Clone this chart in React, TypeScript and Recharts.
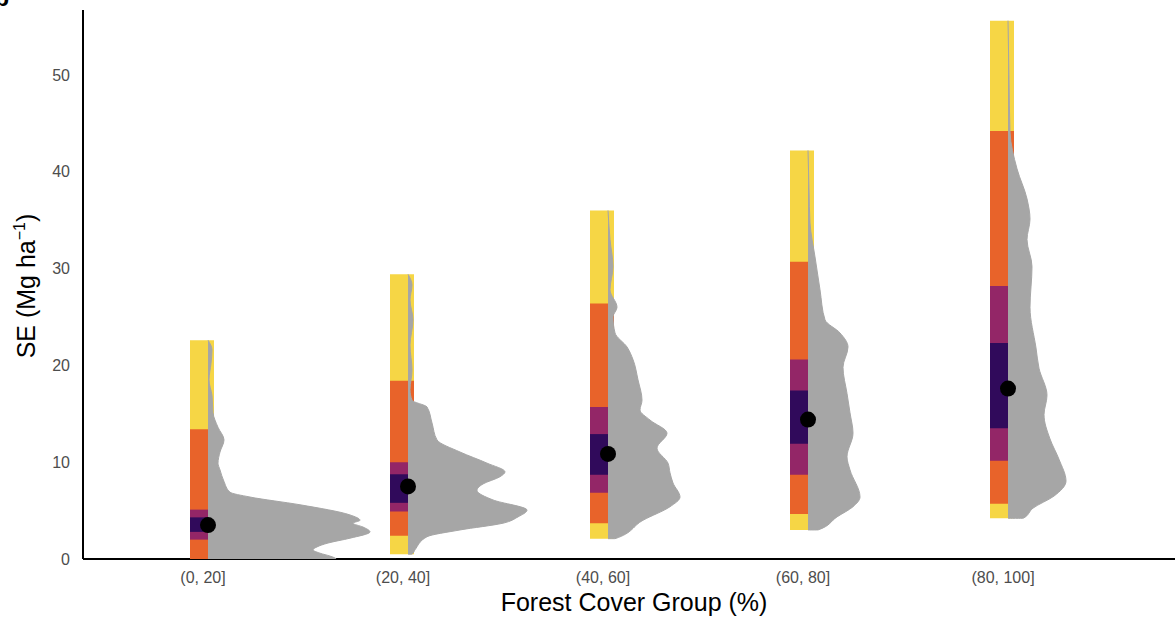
import { ComposedChart, Scatter, XAxis, YAxis, Customized } from "recharts";

const FONT = "'Liberation Sans', Arial, Helvetica, sans-serif";

const groups = ["(0, 20]", "(20, 40]", "(40, 60]", "(60, 80]", "(80, 100]"];
const yTicks = [0, 10, 20, 30, 40, 50];

// interval bounds per forest cover group (SE, Mg/ha), widest to narrowest
const fullLo = [0, 0.5, 2.1, 3.0, 4.2];
const fullHi = [22.6, 29.4, 36.0, 42.2, 55.6];
const q95Lo = [0, 2.4, 3.7, 4.65, 5.7];
const q95Hi = [13.4, 18.4, 26.4, 30.7, 44.2];
const q80Lo = [2.0, 4.9, 6.85, 8.7, 10.15];
const q80Hi = [5.1, 10.0, 15.7, 20.6, 28.2];
const q50Lo = [2.8, 5.8, 8.7, 11.9, 13.5];
const q50Hi = [4.3, 8.75, 12.9, 17.4, 22.3];
const medians = [3.5, 7.5, 10.85, 14.4, 17.6];

// half-violin density profiles, [SE, density], top to bottom
const dens0_20 = [
  [22.6, 0], [21.6, 0.04], [20.2, 0.03], [18.5, 0.01], [16.9, 0.04], [15.1, 0.05],
  [13.6, 0.1], [12.3, 0.16], [11.05, 0.12], [9.9, 0.1], [9.2, 0.12], [8.0, 0.16],
  [6.9, 0.22], [6.4, 0.42], [5.6, 0.92], [4.55, 1.42], [4.0, 1.52], [3.7, 1.45],
  [3.3, 1.55], [2.8, 1.62], [2.15, 1.42], [1.65, 1.2], [1.25, 1.09], [0.95, 1.05],
  [0.6, 1.12], [0.3, 1.22], [0, 1.28],
];
const dens20_40 = [
  [29.4, 0], [28.3, 0.04], [26.75, 0.02], [24.7, 0.05], [22.1, 0.02], [19.5, 0.04],
  [17.5, 0.02], [16.4, 0.04], [15.7, 0.19], [14.05, 0.24], [12.3, 0.29], [11.05, 0.52],
  [9.9, 0.79], [9.0, 0.97], [8.5, 0.92], [7.75, 0.75], [7.1, 0.69], [6.1, 0.85],
  [5.05, 1.19], [4.35, 1.1], [3.7, 0.95], [3.0, 0.52], [2.3, 0.19], [0.95, 0.07],
  [0.5, 0.04],
];
const dens40_60 = [
  [36.0, 0], [33.0, 0.02], [30.2, 0.05], [27.8, 0.02], [26.0, 0.09], [25.0, 0.05],
  [23.35, 0.07], [21.9, 0.19], [20.6, 0.25], [18.5, 0.3], [16.4, 0.34], [15.4, 0.32],
  [14.35, 0.42], [13.0, 0.59], [11.45, 0.49], [9.9, 0.6], [8.9, 0.62], [7.85, 0.65],
  [6.4, 0.72], [5.4, 0.62], [4.0, 0.35], [2.1, 0.07],
];
const dens60_80 = [
  [42.2, 0], [38.1, 0.01], [34.7, 0.02], [31.2, 0.07], [27.8, 0.12], [24.7, 0.17],
  [23.35, 0.32], [21.9, 0.4], [19.8, 0.35], [17.1, 0.39], [15.1, 0.42], [13.0, 0.45],
  [10.55, 0.39], [9.2, 0.42], [6.4, 0.52], [5.4, 0.45], [4.35, 0.29], [3.0, 0.1],
];
const dens80_100 = [
  [55.6, 0], [49.5, 0.01], [44.1, 0.02], [40.3, 0.09], [37.2, 0.19], [35.1, 0.22],
  [33.0, 0.19], [30.2, 0.24], [26.0, 0.22], [21.8, 0.28], [19.7, 0.31], [16.9, 0.39],
  [14.9, 0.36], [12.4, 0.42], [10.3, 0.51], [8.05, 0.58], [6.5, 0.46], [5.25, 0.25],
  [4.2, 0.15],
];
const densities = [dens0_20, dens20_40, dens40_60, dens60_80, dens80_100];

const BAR_SHIFT = -0.005;
const SLAB_SHIFT = 0.025;
const SLAB_SCALE = 0.5;

const intervalPoints = (lo: number[], hi: number[]) =>
  groups.flatMap((_, i) => [
    { x: i + 1 + BAR_SHIFT, y: lo[i] },
    { x: i + 1 + BAR_SHIFT, y: hi[i] },
  ]);

const slabPoints = (i: number) => {
  const prof = densities[i];
  const base = i + 1 + SLAB_SHIFT;
  const pts = prof.map(([se, d]) => ({ x: base + d * SLAB_SCALE, y: se }));
  pts.push({ x: base, y: prof[prof.length - 1][0] });
  return pts;
};

const medianPoints = medians.map((m, i) => ({ x: i + 1 + SLAB_SHIFT, y: m }));

// draws every pair of points as one thick vertical band
const bandLine = (color: string) => (props: any) => {
  const pts = props.points || [];
  const segs = [];
  for (let i = 0; i + 1 < pts.length; i += 2) {
    segs.push(
      <line
        key={i}
        x1={pts[i].x}
        y1={pts[i].y}
        x2={pts[i + 1].x}
        y2={pts[i + 1].y}
        stroke={color}
        strokeWidth={24}
      />
    );
  }
  return <g>{segs}</g>;
};

const bands = [
  { key: "full", lo: fullLo, hi: fullHi, color: "#F6D645" },
  { key: "q95", lo: q95Lo, hi: q95Hi, color: "#E8632A" },
  { key: "q80", lo: q80Lo, hi: q80Hi, color: "#932667" },
  { key: "q50", lo: q50Lo, hi: q50Hi, color: "#300A5B" },
];

const NoDot = () => <g />;

const AxisTitles = () => (
  <g fontFamily={FONT}>
    <text x={-5.5} y={6} fontSize={24} fontWeight="bold" fill="#000">
      b
    </text>
    <text
      x={35}
      y={286}
      transform="rotate(-90, 35, 286)"
      textAnchor="middle"
      fontSize={25}
      fill="#000"
    >
      SE (Mg ha
      <tspan dy={-10} fontSize={16}>
        −1
      </tspan>
      <tspan dy={10}>)</tspan>
    </text>
    <text x={634} y={611} textAnchor="middle" fontSize={25} fill="#000">
      Forest Cover Group (%)
    </text>
  </g>
);

export default function App() {
  return (
    <div style={{ position: "absolute", left: 0, top: 0, width: 1175, height: 617, background: "#fff" }}>
      <ComposedChart width={1175} height={617} margin={{ top: 10, right: 0, bottom: 0, left: 0 }}>
        <XAxis
          type="number"
          dataKey="x"
          domain={[0.4, 5.86]}
          allowDataOverflow
          ticks={[1, 2, 3, 4, 5]}
          tickFormatter={(v: number) => groups[v - 1]}
          height={58}
          axisLine={{ stroke: "#000", strokeWidth: 2 }}
          tickLine={false}
          tickSize={0}
          tickMargin={13}
          tick={{ fill: "#4d4d4d", fontSize: 16, fontFamily: FONT }}
        />
        <YAxis
          type="number"
          dataKey="y"
          domain={[0, 56.7]}
          allowDataOverflow
          ticks={yTicks}
          width={83}
          axisLine={{ stroke: "#000", strokeWidth: 2 }}
          tickLine={false}
          tickSize={0}
          tickMargin={13}
          tick={{ fill: "#4d4d4d", fontSize: 16, fontFamily: FONT }}
        />
        {bands.map((b) => (
          <Scatter
            key={b.key}
            data={intervalPoints(b.lo, b.hi)}
            shape={NoDot}
            line={bandLine(b.color)}
            isAnimationActive={false}
          />
        ))}
        {groups.map((g, i) => (
          <Scatter
            key={g}
            data={slabPoints(i)}
            shape={NoDot}
            line={{ fill: "#A6A6A6", stroke: "#A6A6A6", strokeWidth: 1 }}
            lineJointType="monotoneY"
            isAnimationActive={false}
          />
        ))}
        <Scatter
          data={medianPoints}
          shape={(p: any) => <circle cx={p.cx} cy={p.cy} r={8} fill="#000" />}
          isAnimationActive={false}
        />
        <Customized component={<AxisTitles />} />
      </ComposedChart>
    </div>
  );
}
